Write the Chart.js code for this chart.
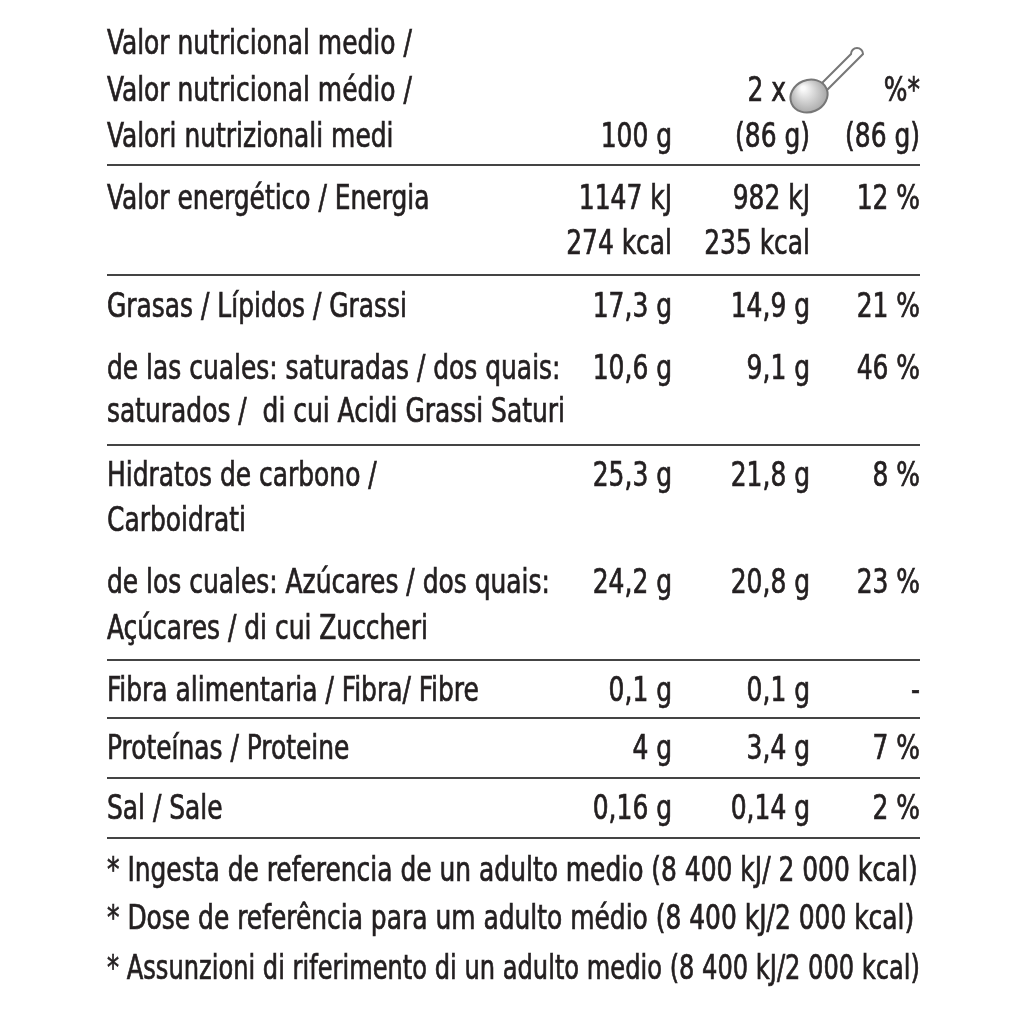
<!DOCTYPE html>
<html><head><meta charset="utf-8">
<script src="https://cdn.jsdelivr.net/npm/chart.js@4"></script>
<style>body{margin:0;background:#fff}</style>
</head><body>
<canvas id="myChart" width="1024" height="1024"></canvas>
<script>
// Table content
const headerLines = ['Valor nutricional medio /', 'Valor nutricional médio /', 'Valori nutrizionali medi'];
const headerCols = [['', '', ''], ['', '', '%*'], ['100 g', '(86 g)', '(86 g)']];
const servingLabel = '2 x';
const rowLabels = [
  ['Valor energético / Energia', ''],
  ['Grasas / Lípidos / Grassi'],
  ['de las cuales: saturadas / dos quais:', 'saturados /  di cui Acidi Grassi Saturi'],
  ['Hidratos de carbono /', 'Carboidrati'],
  ['de los cuales: Azúcares / dos quais:', 'Açúcares / di cui Zuccheri'],
  ['Fibra alimentaria / Fibra/ Fibre'],
  ['Proteínas / Proteine'],
  ['Sal / Sale'],
];
const per100g = [['1147 kJ', '274 kcal'], ['17,3 g'], ['10,6 g'], ['25,3 g'], ['24,2 g'], ['0,1 g'], ['4 g'], ['0,16 g']];
const perPortion = [['982 kJ', '235 kcal'], ['14,9 g'], ['9,1 g'], ['21,8 g'], ['20,8 g'], ['0,1 g'], ['3,4 g'], ['0,14 g']];
const percentRI = [['12 %'], ['21 %'], ['46 %'], ['8 %'], ['23 %'], ['-'], ['7 %'], ['2 %']];
const footnotes = [
  '* Ingesta de referencia de un adulto medio (8 400 kJ/ 2 000 kcal)',
  '* Dose de referência para um adulto médio (8 400 kJ/2 000 kcal)',
  '* Assunzioni di riferimento di un adulto medio (8 400 kJ/2 000 kcal)',
];
// layout (table grid positions)
const headerY = [45, 92, 138];
const rowY = [[200, 245], [308], [370, 413], [477, 522], [584, 630], [692], [750], [810]];
const ruleY = [165, 275, 445, 660, 718, 778, 838];
const footY = [872, 920, 970];
const colLeft = 107;
const colRight = [672, 810, 920];

const FONT = '34px "Liberation Sans Narrow", "DejaVu Sans Condensed", sans-serif';
const SQ = 0.815;

function text(ctx, s, x, y, align, maxW) {
  ctx.save();
  ctx.font = FONT;
  ctx.textBaseline = 'middle';
  const raw = ctx.measureText(s).width;
  let sq = SQ;
  if (maxW && raw * sq > maxW) sq = maxW / raw;
  const w = raw * sq;
  const x0 = align === 'right' ? x - w : x;
  ctx.translate(x0, y);
  ctx.scale(sq, 1);
  ctx.strokeStyle = '#231f20';
  ctx.lineWidth = 0.7;
  ctx.fillText(s, 0, 0);
  ctx.strokeText(s, 0, 0);
  ctx.restore();
}

function spoon(ctx, cx, cy) {
  ctx.save();
  ctx.strokeStyle = '#777';
  ctx.lineWidth = 2;
  ctx.fillStyle = '#fff';
  ctx.beginPath();
  ctx.moveTo(cx + 12, cy - 12);
  ctx.lineTo(cx + 42, cy - 42);
  ctx.arc(cx + 48, cy - 42, 6, Math.PI, 0);
  ctx.lineTo(cx + 18, cy - 6);
  ctx.closePath();
  ctx.fill(); ctx.stroke();
  const g = ctx.createRadialGradient(cx - 6, cy - 8, 2, cx, cy, 22);
  g.addColorStop(0, '#fafafa'); g.addColorStop(1, '#999');
  ctx.fillStyle = g;
  ctx.beginPath();
  ctx.ellipse(cx, cy, 19, 16, -0.4, 0, Math.PI * 2);
  ctx.fill(); ctx.stroke();
  ctx.restore();
}

const tablePlugin = {
  id: 'tablePlugin',
  afterDraw(chart) {
    const { ctx, scales: { x, y } } = chart;
    ctx.fillStyle = '#231f20';
    headerLines.forEach((s, i) => text(ctx, s, x.getPixelForValue(colLeft), y.getPixelForValue(headerY[i])));
    headerCols.forEach((cols, i) => cols.forEach((s, c) => {
      if (s) text(ctx, s, x.getPixelForValue(colRight[c]), y.getPixelForValue(headerY[i]), 'right');
    }));
    text(ctx, servingLabel, x.getPixelForValue(786), y.getPixelForValue(headerY[1]), 'right');
    spoon(ctx, x.getPixelForValue(809), y.getPixelForValue(96));
    ctx.fillStyle = '#231f20';
    rowLabels.forEach((lines, r) => {
      lines.forEach((s, l) => text(ctx, s, x.getPixelForValue(colLeft), y.getPixelForValue(rowY[r][l])));
      [per100g, perPortion, percentRI].forEach((col, c) => col[r].forEach((s, l) =>
        text(ctx, s, x.getPixelForValue(colRight[c]), y.getPixelForValue(rowY[r][l]), 'right')));
    });
    ctx.strokeStyle = '#444';
    ctx.lineWidth = 2;
    ruleY.forEach(v => {
      ctx.beginPath();
      ctx.moveTo(x.getPixelForValue(colLeft), y.getPixelForValue(v));
      ctx.lineTo(x.getPixelForValue(colRight[2]), y.getPixelForValue(v));
      ctx.stroke();
    });
    const fw = x.getPixelForValue(colRight[2]) - x.getPixelForValue(colLeft);
    footnotes.forEach((s, i) => text(ctx, s, x.getPixelForValue(colLeft), y.getPixelForValue(footY[i]), 'left', fw));
  }
};

new Chart(document.getElementById('myChart'), {
  type: 'scatter',
  data: { datasets: [{ data: [] }] },
  options: {
    responsive: false,
    animation: false,
    devicePixelRatio: 1,
    layout: { padding: 0 },
    plugins: { legend: { display: false }, tooltip: { enabled: false } },
    scales: {
      x: { display: false, min: 0, max: 1024 },
      y: { display: false, min: 0, max: 1024, reverse: true },
    },
  },
  plugins: [tablePlugin],
});
</script>
</body></html>
